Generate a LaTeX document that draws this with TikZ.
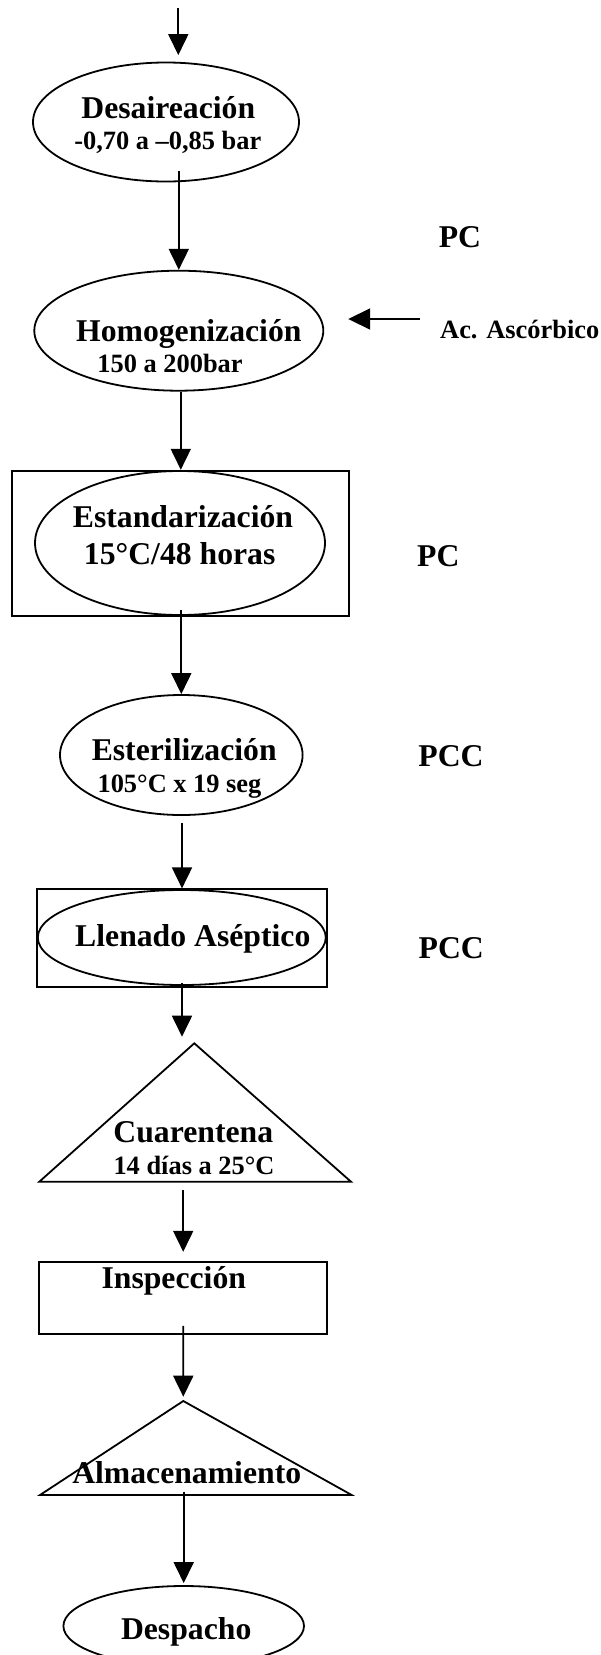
\documentclass[tikz,border=0pt]{standalone}
\usepackage{fontspec}
\setmainfont{Liberation Serif}
\usetikzlibrary{shapes.geometric,arrows.meta,calc}
\begin{document}
\begin{tikzpicture}[x=1pt,y=-1pt,
  shp/.style={draw=black, line width=1.8pt},
  ell/.style={shp, ellipse, inner sep=0pt},
  box/.style={shp, rectangle, inner sep=0pt},
  big/.style={font=\fontsize{31.7}{36}\selectfont\bfseries, inner sep=0pt, anchor=base},
  small/.style={font=\fontsize{26.4}{30}\selectfont\bfseries, inner sep=0pt, anchor=base},
  arr/.style={line width=1.8pt, -{Triangle[length=21pt,width=20pt]}},
  arrb/.style={line width=1.8pt, -{Triangle[length=22pt,width=21pt]}}
]
\clip (0,0) rectangle (600,1655);
\fill[white] (0,0) rectangle (600,1655);

% shapes
\node[ell, minimum width=266pt, minimum height=119pt] (desa) at (166,122) {};
\node[ell, minimum width=289pt, minimum height=120pt] (homo) at (178.8,330.7) {};
\node[box, minimum width=337pt, minimum height=145.3pt] (estR) at (180.8,543.35) {};
\node[ell, minimum width=290pt, minimum height=144pt] (estE) at (180,543) {};
\node[ell, minimum width=242.6pt, minimum height=120pt] (ester) at (181.3,755) {};
\node[box, minimum width=289.4pt, minimum height=97.4pt] (llR) at (182,938) {};
\node[ell, minimum width=288pt, minimum height=95pt] (llE) at (181.8,937.5) {};
\coordinate (cuarTop) at (194.3,1043.3);
\coordinate (cuarL) at (39.3,1181.7);
\coordinate (cuarR) at (351,1181.7);
\draw[shp, line join=miter] (cuarTop) -- (cuarL) -- (cuarR) -- cycle;
\node[box, minimum width=288.3pt, minimum height=72.3pt] (insp) at (183.2,1297.85) {};
\coordinate (almaTop) at (183.3,1401);
\coordinate (almaL) at (40,1495);
\coordinate (almaR) at (351.7,1495);
\draw[shp, line join=miter] (almaTop) -- (almaL) -- (almaR) -- cycle;
\node[ell, minimum width=240.6pt, minimum height=80pt] (desp) at (183.7,1626) {};

% texts
\node[big] (tDesa) at (168.3,118) {Desaireación};
\node[small] (tDesa2) at (167.8,149) {-0,70 a –0,85 bar};
\node[big] (tHomo) at (188.8,341.7) {Homogenización};
\node[small] (tHomo2) at (170,372.7) {150 a 200bar};
\node[big] (pc1) at (460,247.5) {PC};
\node[small, anchor=base west] (acTxt) at (440,338.5) {Ac. Ascórbico};
\node[big] (tEst) at (183,527.3) {Estandarización};
\node[big] (tEst2) at (179.7,564) {15°C/48 horas};
\node[big] (pc2) at (438.3,566.7) {PC};
\node[big] (tEster) at (184.2,760) {Esterilización};
\node[small] (tEster2) at (179.5,792.7) {105°C x 19 seg};
\node[big] (pcc1) at (451,766.7) {PCC};
\node[big] (tLl) at (192.8,946) {Llenado Aséptico};
\node[big] (pcc2) at (451.3,958.3) {PCC};
\node[big] (tCuar) at (193.3,1142.7) {Cuarentena};
\node[small] (tCuar2) at (194,1174) {14 días a 25°C};
\node[big] (tInsp) at (173.8,1288.3) {Inspección};
\node[big] (tAlma) at (186.7,1483.3) {Almacenamiento};
\node[big] (tDesp) at (186.2,1639.3) {Despacho};

% connectors
\coordinate (inflow) at (178.3,8);
\draw[arr] (inflow) -- ($(inflow |- desa.north)+(0,-6.5)$);
\draw[arr] ($(homo.north |- desa.south)+(0,-11.5)$) -- (homo.north);
\draw[arr] (estR.north |- homo.south) -- (estR.north);
\draw[arr] ($(ester.north |- estR.south)+(0,-6.7)$) -- (ester.north);
\draw[arr] ($(llR.north |- ester.south)+(0,6.7)$) -- (llR.north);
\draw[arr] ($(llR.south)+(0,-5)$) -- ($(llR.south |- cuarTop)+(0,-6.6)$);
\draw[arr] ($(insp.north |- cuarL)+(0,8.3)$) -- ($(insp.north)+(0,-9)$);
\draw[arr] ($(insp.south)+(0,-9)$) -- ($(almaTop)+(0,-4.3)$);
\draw[arr] ($(desp.north |- almaL)+(0,-3.3)$) -- ($(desp.north)+(0,-2)$);
\draw[arrb] ($(acTxt.base west)+(-20,-19.5)$) -- ($(homo.east)+(24,-11.7)$);
\end{tikzpicture}
\end{document}
